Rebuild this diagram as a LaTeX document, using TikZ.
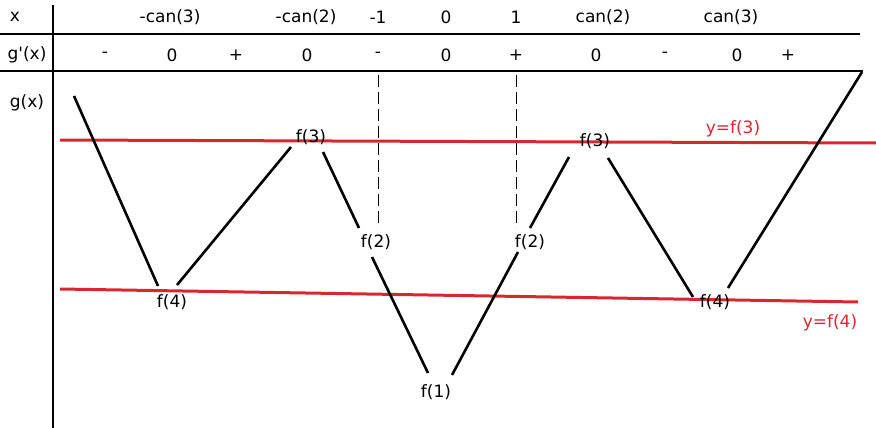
\documentclass[tikz,border=0pt]{standalone}
\usepackage{fontspec}
\setmainfont{DejaVu Sans}
\definecolor{redline}{RGB}{214,40,48}
\begin{document}
\begin{tikzpicture}[x=1pt,y=-1pt,
  lbl/.style={inner sep=0pt,font=\fontsize{17}{20}\selectfont},
  rlbl/.style={lbl,text=redline},
  curve/.style={line width=2.6pt,black},
  rline/.style={line width=3pt,redline},
  grid/.style={line width=1.2pt,black},
  dashline/.style={line width=0.9pt,dashed,dash pattern=on 12pt off 5pt}]
\useasboundingbox[fill=white] (0,0) rectangle (876,428);
% table lines
\coordinate (vt) at (53,5); \coordinate (vb) at (53,428);
\draw[grid] (vt) -- (vb);
\coordinate (h1a) at (0,34); \coordinate (h1b) at (860,34);
\coordinate (h2a) at (0,71); \coordinate (h2b) at (863,71);
\draw[grid] (h1a) -- (h1b);
\draw[grid] (h2a) -- (h2b);
% row 1
\node[lbl] (x) at (15,17) {x};
\node[lbl] (xa) at (170,17) {-can(3)};
\node[lbl] (xb) at (306,17) {-can(2)};
\node[lbl] (xc) at (378,17) {-1};
\node[lbl] (xd) at (446,17) {0};
\node[lbl] (xe) at (516,17) {1};
\node[lbl] (xf) at (603,17) {can(2)};
\node[lbl] (xg) at (731,17) {can(3)};
% row 2
\node[lbl] (gp) at (27,55) {g\textquotesingle(x)};
\node[lbl] (s1) at (105,55) {-};
\node[lbl] (s2) at (172,55) {0};
\node[lbl] (s3) at (236,55) {+};
\node[lbl] (s4) at (307,55) {0};
\node[lbl] (s5) at (378,55) {-};
\node[lbl] (s6) at (446,55) {0};
\node[lbl] (s7) at (516,55) {+};
\node[lbl] (s8) at (596,55) {0};
\node[lbl] (s9) at (665,55) {-};
\node[lbl] (s10) at (737,55) {0};
\node[lbl] (s11) at (788,55) {+};
\node[lbl] (g) at (27,103) {g(x)};
% dashed lines
\coordinate (d1t) at (378,75); \coordinate (d1b) at (378,228);
\coordinate (d2t) at (516,75); \coordinate (d2b) at (516,228);
\draw[dashline] (d1t) -- (d1b);
\draw[dashline] (d2t) -- (d2b);
% red lines
\coordinate (r1a) at (60,140); \coordinate (r1b) at (876,143);
\coordinate (r2a) at (60,289); \coordinate (r2b) at (858,302);
\draw[rline] (r1a) -- (r1b);
\draw[rline] (r2a) -- (r2b);
\node[rlbl] (yf3) at (733,129) {y=f(3)};
\node[rlbl] (yf4) at (830,323) {y=f(4)};
% value labels
\node[lbl] (f3a) at (311,137) {f(3)};
\node[lbl] (f2a) at (376,242) {f(2)};
\node[lbl] (f4a) at (172,302) {f(4)};
\node[lbl] (f1) at (436,392) {f(1)};
\node[lbl] (f2b) at (530,242) {f(2)};
\node[lbl] (f3b) at (595,141) {f(3)};
\node[lbl] (f4b) at (715,302) {f(4)};
% curve segments
\coordinate (c1) at (74,96);   \coordinate (c2) at (158,286);
\coordinate (c3) at (177,285); \coordinate (c4) at (291,147);
\coordinate (c5) at (323,152); \coordinate (c6) at (359,228);
\coordinate (c7) at (372,257); \coordinate (c8) at (428,373);
\coordinate (c9) at (452,375); \coordinate (c10) at (518,252);
\coordinate (c11) at (530,228); \coordinate (c12) at (569,157);
\coordinate (c13) at (608,158); \coordinate (c14) at (693,297);
\coordinate (c15) at (728,288); \coordinate (c16) at (862,72);
\draw[curve] (c1) -- (c2);
\draw[curve] (c3) -- (c4);
\draw[curve] (c5) -- (c6);
\draw[curve] (c7) -- (c8);
\draw[curve] (c9) -- (c10);
\draw[curve] (c11) -- (c12);
\draw[curve] (c13) -- (c14);
\draw[curve] (c15) -- (c16);
\end{tikzpicture}
\end{document}
